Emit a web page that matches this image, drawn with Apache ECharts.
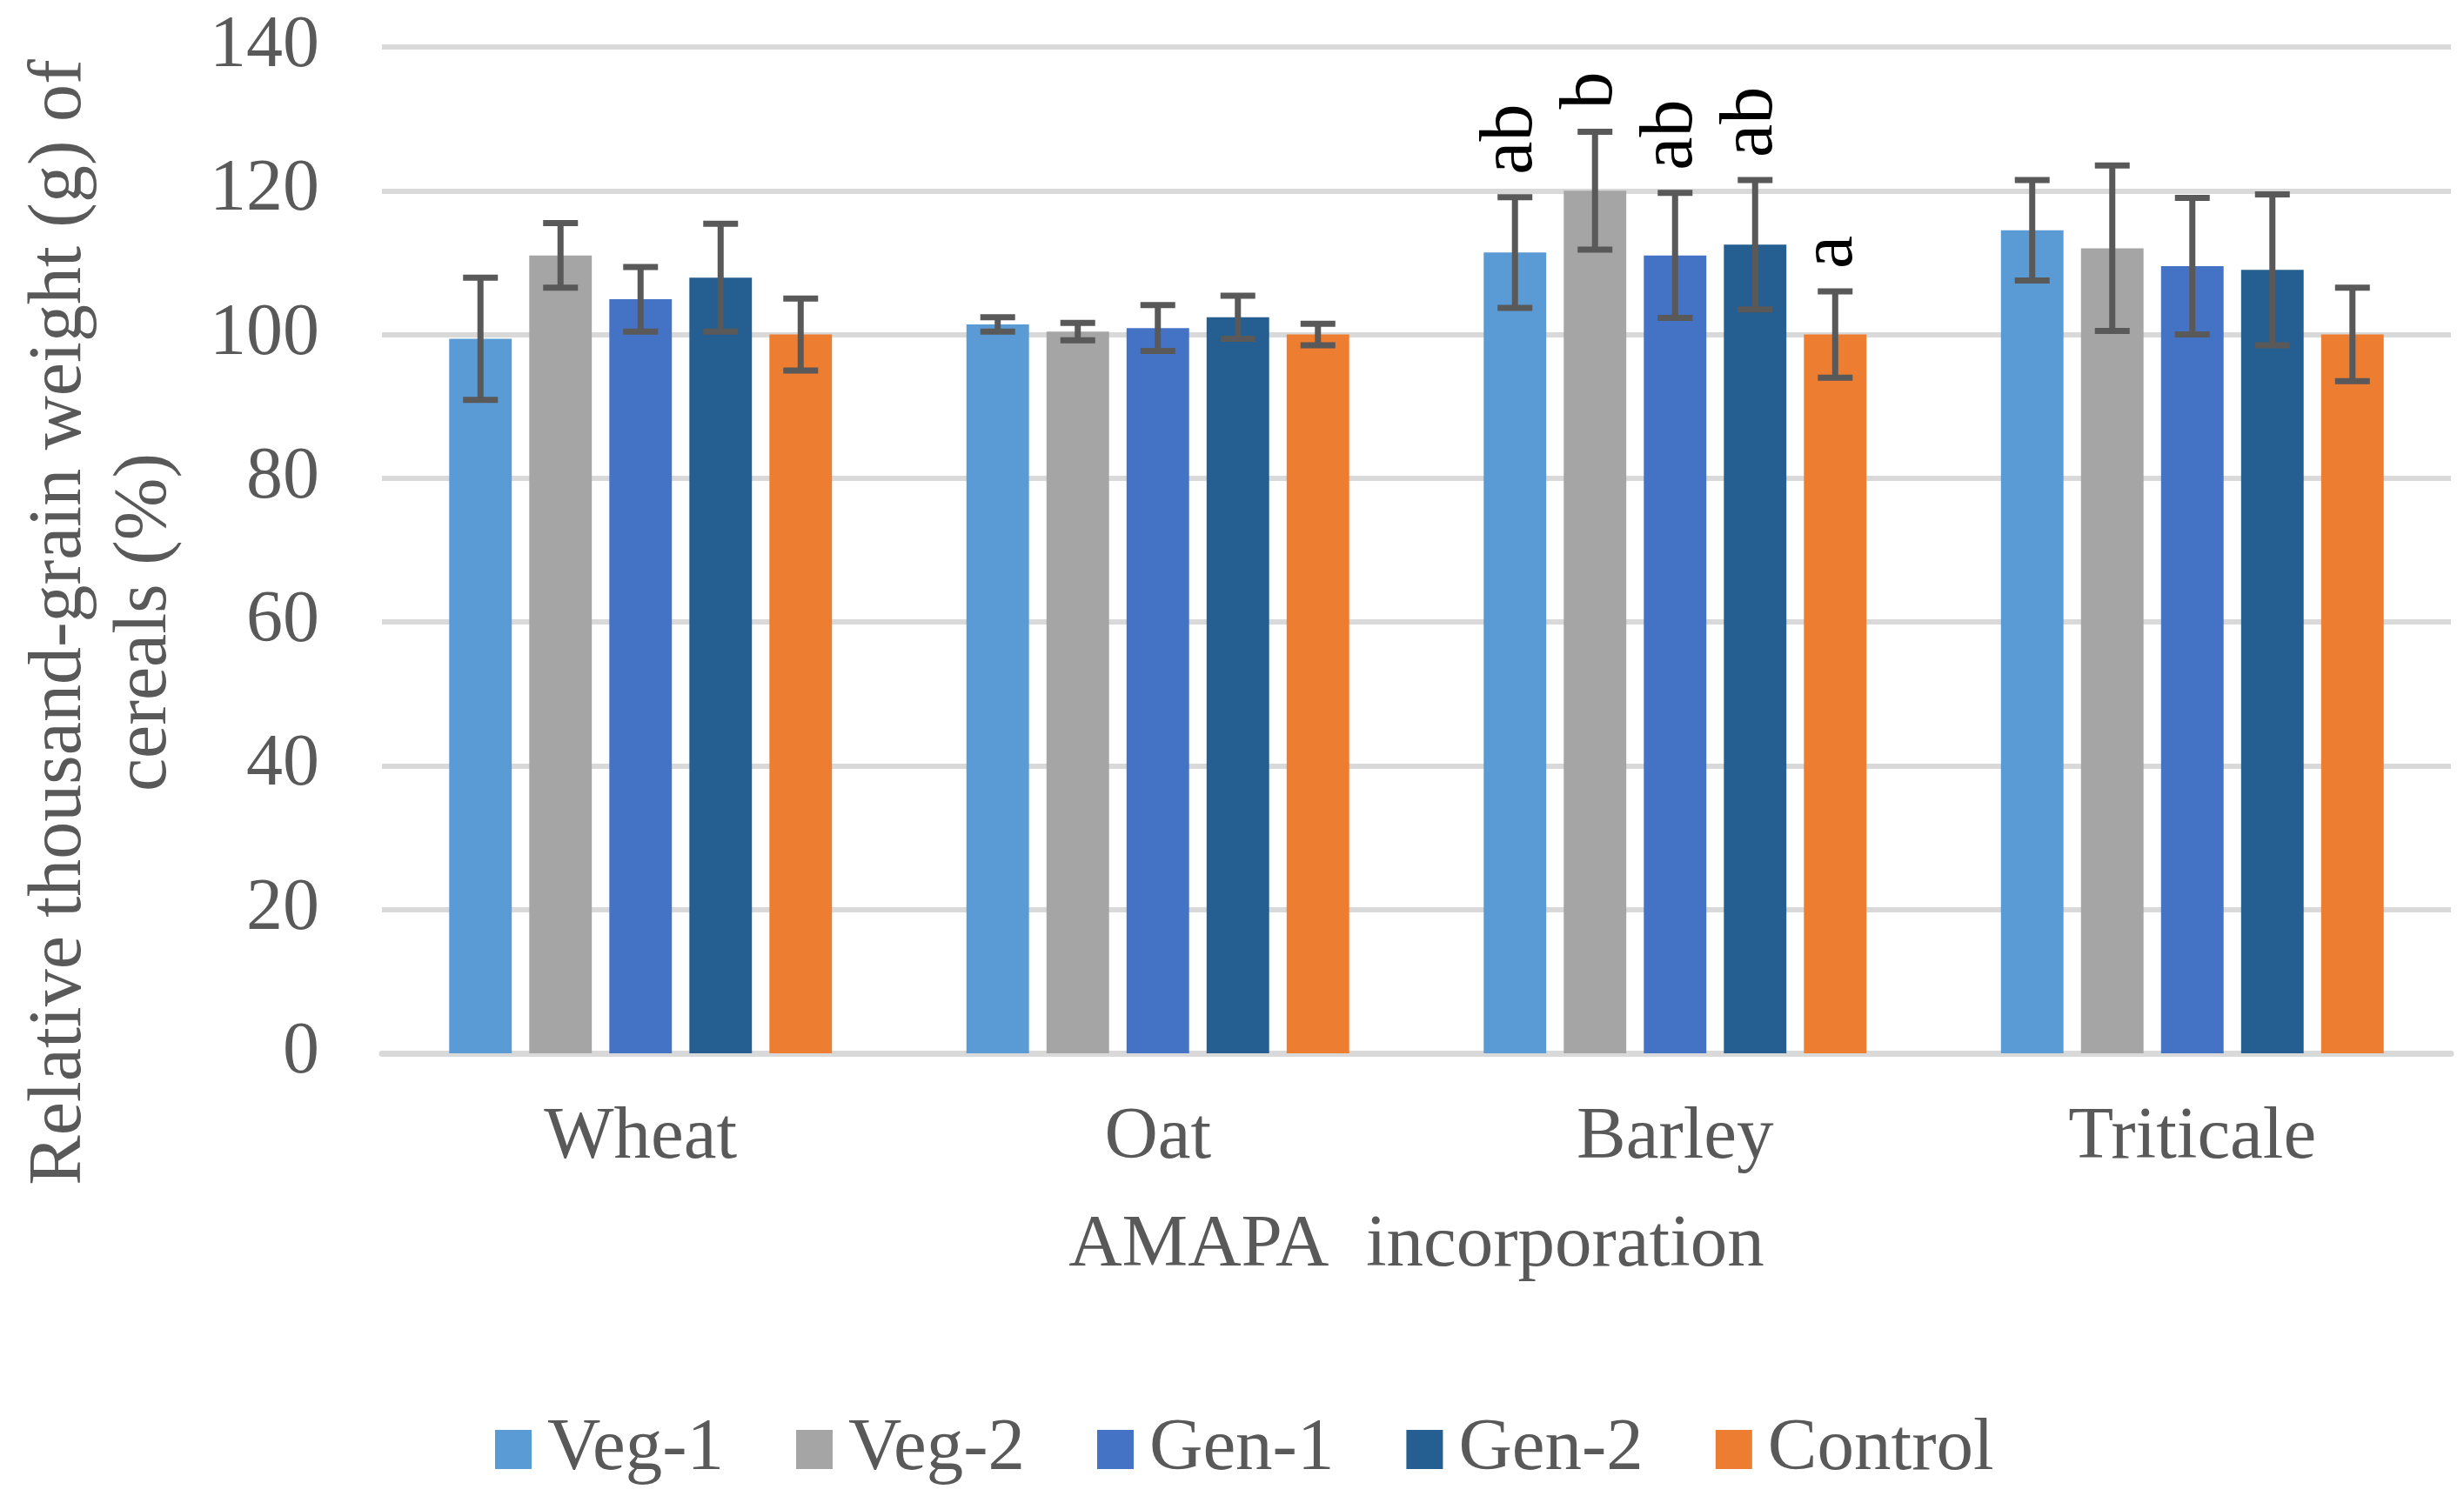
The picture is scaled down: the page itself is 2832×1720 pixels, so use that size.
<!DOCTYPE html>
<html>
<head>
<meta charset="utf-8">
<script src="https://cdn.jsdelivr.net/npm/echarts@6/dist/echarts.min.js"></script>
<style>
html,body{margin:0;padding:0;background:#fff;}
#chart{width:2832px;height:1720px;}
</style>
</head>
<body>
<div id="chart"></div>
<script>
var categories = ['Wheat', 'Oat', 'Barley', 'Triticale'];
var seriesNames = ['Veg-1', 'Veg-2', 'Gen-1', 'Gen-2', 'Control'];
var veg1 = [99.4, 101.4, 111.4, 114.5];
var veg2 = [111.0, 100.4, 120.0, 112.0];
var gen1 = [104.9, 100.9, 111.0, 109.5];
var gen2 = [107.9, 102.4, 112.5, 109.0];
var control = [100, 100, 100, 100];
var veg1Err = [8.5, 1.0, 7.7, 7.0];
var veg2Err = [4.5, 1.2, 8.2, 11.5];
var gen1Err = [4.5, 3.2, 8.7, 9.5];
var gen2Err = [7.5, 3.0, 9.0, 10.5];
var controlErr = [5.0, 1.5, 6.0, 6.5];
var letters = { 'Barley': ['ab', 'b', 'ab', 'ab', 'a'] };
var yTicks = [0, 20, 40, 60, 80, 100, 120, 140];

var colors = ['#5B9BD5', '#A5A5A5', '#4472C4', '#255E91', '#ED7D31'];
var values = [veg1, veg2, gen1, gen2, control];
var errors = [veg1Err, veg2Err, gen1Err, gen2Err, controlErr];
var FONT = 'Liberation Serif';
var CAT_GAP = 0.26, BAR_GAP = 0.28;

var errData = [];
for (var s = 0; s < values.length; s++) {
  for (var c = 0; c < categories.length; c++) {
    errData.push([c, s, values[s][c] - errors[s][c], values[s][c] + errors[s][c]]);
  }
}

var series = values.map(function (v, i) {
  return {
    name: seriesNames[i],
    type: 'bar',
    data: v,
    barGap: (BAR_GAP * 100) + '%',
    barCategoryGap: (CAT_GAP * 100) + '%',
    itemStyle: { color: colors[i] }
  };
});

series.push({
  type: 'custom',
  z: 5,
  silent: true,
  data: errData,
  encode: { x: 0, y: 3 },
  renderItem: function (params, api) {
    var cat = api.value(0), s = api.value(1), lo = api.value(2), hi = api.value(3);
    var n = values.length;
    var band = api.size([1, 0])[0];
    var bw = band * (1 - CAT_GAP) / (n + (n - 1) * BAR_GAP);
    var groupW = n * bw + (n - 1) * BAR_GAP * bw;
    var off = -groupW / 2 + bw / 2 + s * bw * (1 + BAR_GAP);
    var pHi = api.coord([cat, hi]);
    var pLo = api.coord([cat, lo]);
    var x = pHi[0] + off;
    var cap = 20;
    var st = { stroke: '#595959', lineWidth: 7 };
    var children = [
      { type: 'line', shape: { x1: x, y1: pHi[1], x2: x, y2: pLo[1] }, style: st },
      { type: 'line', shape: { x1: x - cap, y1: pHi[1], x2: x + cap, y2: pHi[1] }, style: st },
      { type: 'line', shape: { x1: x - cap, y1: pLo[1], x2: x + cap, y2: pLo[1] }, style: st }
    ];
    var L = letters[categories[cat]];
    if (L && L[s]) {
      children.push({
        type: 'text',
        x: x - 4,
        y: pHi[1] - 26,
        rotation: Math.PI / 2,
        style: {
          text: L[s],
          fill: '#000000',
          fontSize: 86,
          fontFamily: FONT,
          align: 'left',
          verticalAlign: 'middle'
        }
      });
    }
    return { type: 'group', children: children };
  }
});

var chart = echarts.init(document.getElementById('chart'));
chart.setOption({
  backgroundColor: '#ffffff',
  animation: false,
  textStyle: { fontFamily: FONT },
  grid: { left: 439, right: 15, top: 54, bottom: 509, containLabel: false, outerBoundsMode: 'none' },
  legend: {
    data: seriesNames,
    icon: 'rect',
    itemWidth: 42,
    itemHeight: 45,
    itemGap: 83,
    left: 564,
    top: 1619,
    textStyle: { fontFamily: FONT, fontSize: 85, color: '#595959', padding: [0, 0, 0, 13] }
  },
  xAxis: {
    type: 'category',
    data: categories,
    name: 'AMAPA  incorporation',
    nameLocation: 'middle',
    nameGap: 179,
    nameTextStyle: { fontFamily: FONT, fontSize: 85, color: '#595959' },
    axisLine: { lineStyle: { color: '#D9D9D9', width: 7 } },
    axisTick: { show: false },
    axisLabel: { margin: 55, fontFamily: FONT, fontSize: 85, color: '#595959' }
  },
  yAxis: {
    type: 'value',
    min: yTicks[0],
    max: yTicks[yTicks.length - 1],
    interval: yTicks[1] - yTicks[0],
    name: 'Relative thousand-grain weight (g) of\ncereals (%)',
    nameLocation: 'middle',
    nameRotate: 90,
    nameGap: 223,
    nameTextStyle: { fontFamily: FONT, fontSize: 86, color: '#595959', lineHeight: 98, padding: [0, 166, 0, 0] },
    axisLine: { show: false },
    axisTick: { show: false },
    splitLine: { lineStyle: { color: '#D9D9D9', width: 6 } },
    axisLabel: { margin: 72, fontFamily: FONT, fontSize: 84, color: '#595959' }
  },
  series: series
});
</script>
</body>
</html>
